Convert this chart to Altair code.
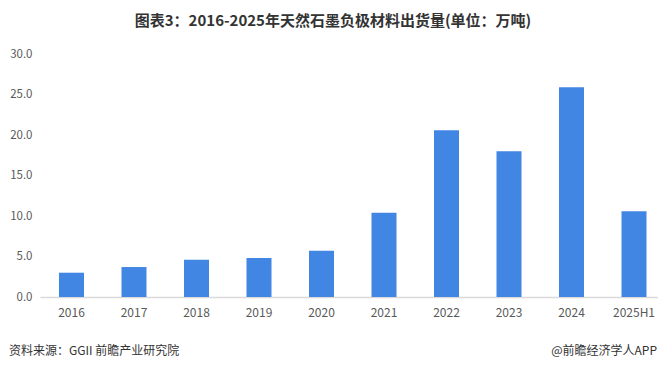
import altair as alt
import pandas as pd

years = ["2016", "2017", "2018", "2019", "2020", "2021", "2022", "2023", "2024", "2025H1"]
values = [3.0, 3.7, 4.6, 4.8, 5.7, 10.4, 20.6, 18.0, 25.9, 10.6]
y_ticks = [0, 5, 10, 15, 20, 25, 30]

title_text = "图表3：2016-2025年天然石墨负极材料出货量(单位：万吨)"
source_text = "资料来源：GGII 前瞻产业研究院"
credit_text = "@前瞻经济学人APP"

df = pd.DataFrame({"year": years, "value": values})
FONT = "Noto Sans CJK SC"

bars = alt.Chart(df).mark_bar(color="#4286E3").encode(
    x=alt.X("year:N", sort=years,
            scale=alt.Scale(paddingInner=0.6, paddingOuter=0.244, align=0.623),
            axis=alt.Axis(title=None, labelAngle=0, ticks=False, domainColor="#D9D9D9",
                          domainWidth=1.5, labelColor="#595959", labelFontSize=12,
                          labelFont=FONT, labelPadding=10)),
    y=alt.Y("value:Q", scale=alt.Scale(domain=[0, 30], nice=False),
            axis=alt.Axis(title=None, values=y_ticks, format=".1f", grid=False, domain=False,
                          ticks=False, labelColor="#595959", labelFontSize=11.5,
                          labelFont=FONT, labelPadding=8)),
)

title = alt.Chart(pd.DataFrame({"t": [title_text]})).mark_text(
    font=FONT, fontSize=15, fontWeight="bold", color="#333333", align="center", baseline="middle"
).encode(x=alt.value(293), y=alt.value(-33), text="t:N")

source = alt.Chart(pd.DataFrame({"t": [source_text]})).mark_text(
    font=FONT, fontSize=12, color="#333333", align="left", baseline="middle"
).encode(x=alt.value(-31), y=alt.value(297), text="t:N")

credit = alt.Chart(pd.DataFrame({"t": [credit_text]})).mark_text(
    font=FONT, fontSize=12, color="#333333", align="right", baseline="middle"
).encode(x=alt.value(617), y=alt.value(297), text="t:N")

chart = alt.layer(bars, title, source, credit).properties(
    width=618, height=243,
    autosize=alt.AutoSizeParams(type="none"),
    padding={"left": 32, "top": 46, "right": 0, "bottom": 67},
    background="white",
).configure_view(stroke=None)

chart.save("out.html", embed_options={"renderer": "svg", "actions": False})
